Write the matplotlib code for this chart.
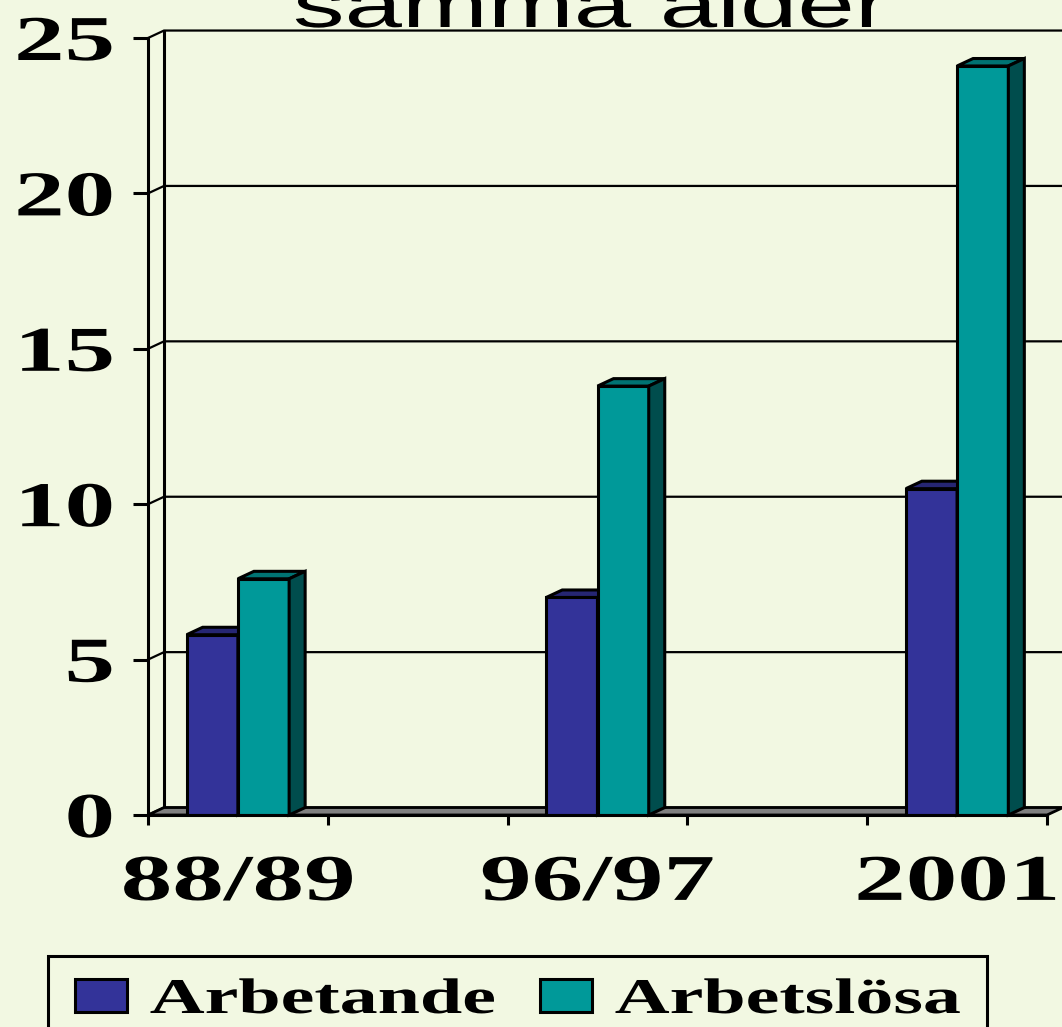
import numpy as np
import matplotlib
matplotlib.use("Agg")
import matplotlib.pyplot as plt
from matplotlib import patheffects
from matplotlib.patches import Polygon, Rectangle
from matplotlib.transforms import Affine2D

# data
categories = ["88/89", "96/97", "2001"]
arbetande = [5.8, 7.0, 10.5]
arbetslosa = [7.6, 13.8, 24.1]
series_labels = ["Arbetande", "Arbetslösa"]
y_ticks = [0, 5, 10, 15, 20, 25]
title = "samma ålder"

BG = "#F2F8E2"
W, H = 1062, 1027
DX, DY = 0.089, 0.24      # depth of the fake 3d walls, in data units
SX = 1.58                 # the reference text is drawn wide


class Stretch(patheffects.AbstractPathEffect):
    """Widen text horizontally, keeping its left/centre/right edge in place."""

    def __init__(self, sx=SX, anchor="center"):
        super().__init__()
        self.sx = sx
        self.anchor = anchor

    def draw_path(self, renderer, gc, tpath, affine, rgbFace=None):
        ext = tpath.get_extents()
        x0 = {"left": ext.x0, "center": (ext.x0 + ext.x1) / 2, "right": ext.x1}[self.anchor]
        pre = Affine2D().translate(-x0, 0).scale(self.sx, 1).translate(x0, 0)
        renderer.draw_path(gc, tpath, pre + affine, rgbFace)


serif = {"family": "Liberation Serif", "weight": "bold"}

fig = plt.figure(figsize=(W / 100, H / 100), dpi=100, facecolor=BG)
ax = fig.add_axes([148 / W, (H - 815) / H, 899 / W, 777 / H])
ax.set_facecolor("none")
ax.set_xlim(-0.5, 4.5)
ax.set_ylim(0, 25)

for side in ["top", "right"]:
    ax.spines[side].set_visible(False)
for side in ["left", "bottom"]:
    ax.spines[side].set_linewidth(2.2)
    ax.spines[side].set_zorder(3)

# back wall + left wall grid
for v in y_ticks:
    ax.plot([-0.5, -0.5 + DX, 4.5 + DX], [v, v + DY, v + DY], color="black",
            lw=1.6, clip_on=False, zorder=0.5, solid_joinstyle="miter")
ax.plot([-0.5 + DX] * 2, [DY, 25 + DY], color="black", lw=2.2, clip_on=False, zorder=0.5)

# floor
ax.add_patch(Polygon([(-0.5, 0), (4.5, 0), (4.5 + DX, DY), (-0.5 + DX, DY)],
                     closed=True, facecolor="#808080", edgecolor="black", lw=2,
                     clip_on=False, zorder=1))

xpos = np.arange(len(categories)) * 2
w = 0.285
styles = [
    (arbetande, -w / 2, "#333399", "#262673", "#1A1A4D"),
    (arbetslosa, w / 2, "#009999", "#007373", "#004D4D"),
]
handles = []
for vals, off, front, top, sidec in styles:
    bars = ax.bar(xpos + off, vals, width=w, color=front, edgecolor="black",
                  linewidth=2.2, zorder=2)
    handles.append(bars)
    for rect in bars:
        x0 = rect.get_x()
        x1 = x0 + rect.get_width()
        h = rect.get_height()
        ax.add_patch(Polygon([(x0, h), (x1, h), (x1 + DX, h + DY), (x0 + DX, h + DY)],
                             closed=True, facecolor=top, edgecolor="black", lw=2.2,
                             joinstyle="miter", zorder=2, clip_on=False))
        ax.add_patch(Polygon([(x1, 0), (x1 + DX, DY), (x1 + DX, h + DY), (x1, h)],
                             closed=True, facecolor=sidec, edgecolor="black", lw=2.2,
                             joinstyle="miter", zorder=2, clip_on=False))

# ticks
ax.set_xticks(np.arange(-0.5, 5, 1))
ax.set_xticklabels([])
ax.tick_params(axis="x", which="major", length=7.2, width=2.2, direction="out")
ax.set_xticks(xpos, minor=True)
ax.set_xticklabels(categories, minor=True, fontsize=47, **serif)
ax.tick_params(axis="x", which="minor", length=0, pad=28)

ax.set_yticks(y_ticks)
ax.set_yticklabels([str(v) for v in y_ticks], fontsize=46, **serif)
ax.tick_params(axis="y", length=10.8, width=2.2, direction="out", pad=14)

for t in ax.get_xticklabels(minor=True):
    t.set_path_effects([Stretch(anchor="center")])
for t in ax.get_yticklabels():
    t.set_path_effects([Stretch(anchor="right")])

# title, cut off at the top as in the reference
fig.text(591 / W, (H - 27) / H, title, ha="center", va="baseline", fontsize=47,
         family="Liberation Sans", path_effects=[Stretch(anchor="center")])

# legend
leg = ax.legend(handles, series_labels, ncol=2, loc="upper left",
                bbox_to_anchor=(75 / W, (H - 978) / H), bbox_transform=fig.transFigure,
                frameon=False, prop={"size": 36, **serif}, handlelength=1.04,
                handleheight=0.64, handletextpad=0.46, columnspacing=3.24,
                borderaxespad=0, borderpad=0)
for t in leg.get_texts():
    t.set_path_effects([Stretch(1.52, anchor="left")])
fig.add_artist(Rectangle((48 / W, -20 / H), (987 - 48) / W, (H - 956 + 20) / H,
                         transform=fig.transFigure, fill=False, edgecolor="black", lw=2.2))

fig.savefig("out.png", dpi=100, facecolor=BG)
